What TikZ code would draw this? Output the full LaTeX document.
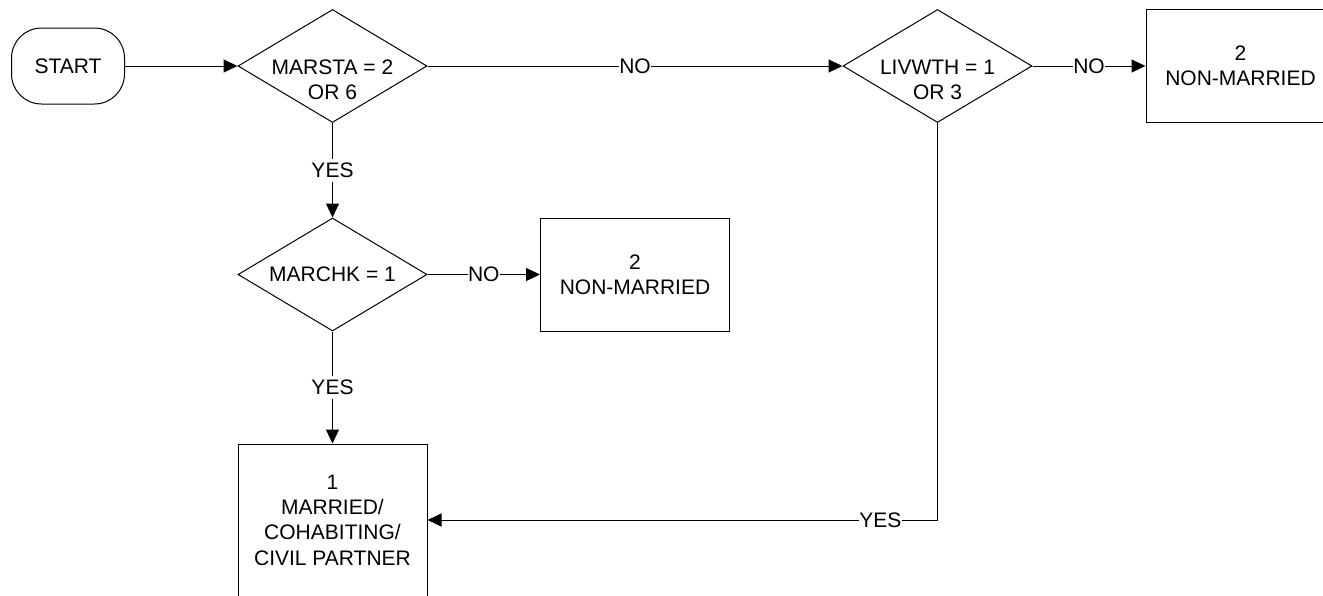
\documentclass[tikz,border=0pt]{standalone}
\usepackage{fontspec}
\setmainfont{Liberation Sans}
\usetikzlibrary{shapes.geometric,arrows.meta}
\begin{document}
\begin{tikzpicture}[x=0.5pt,y=-0.5pt,
  every node/.style={font=\fontsize{10.5pt}{12.65pt}\selectfont},
  base/.style={draw=black,line width=0.5pt},
  termbox/.style={base,rectangle,rounded corners=15pt,minimum width=56.5pt,minimum height=38pt,inner sep=0pt},
  decision/.style={base,diamond,minimum width=94.5pt,minimum height=56.5pt,inner sep=0pt},
  outbox/.style={base,rectangle,minimum width=94.5pt,minimum height=56.5pt,inner sep=0pt,align=center},
  tallbox/.style={outbox,minimum height=76pt},
  dtext/.style={align=center,inner sep=0pt},
  conn/.style={line width=0.5pt,-{Triangle[length=7pt,width=6.5pt]}},
  lab/.style={fill=white,inner xsep=0.2pt,inner ysep=2pt}
]
\useasboundingbox (0,0) rectangle (1323,595);
\clip (0,0) rectangle (1323,595);

\node[termbox] (start) at (68,66) {START};
\node[decision] (d1) at (332.5,66) {};
\node[dtext] (d1t) at (332.5,80) {MARSTA = 2\\OR 6};
\node[decision] (d3) at (937.5,66) {};
\node[dtext] (d3t) at (937.5,80) {LIVWTH = 1\\OR 3};
\node[outbox] (r1) at (1240.5,66) {2\\NON-MARRIED};
\node[decision] (d2) at (332.5,274.5) {};
\node[dtext] (d2t) at (332.5,274.5) {MARCHK = 1};
\node[outbox] (m1) at (635,274.5) {2\\NON-MARRIED};
\node[tallbox] (b1) at (332.5,520) {1\\MARRIED/\\COHABITING/\\CIVIL PARTNER};

\draw[conn] (start.east) -- (d1.west);
\draw[conn] (d1.east) -- node[lab] {NO} (d3.west);
\draw[conn] (d3.east) -- node[lab] {NO} (r1.west);
\draw[conn] (d1.south) -- node[lab] {YES} (d2.north);
\draw[conn] (d2.east) -- node[lab] {NO} (m1.west);
\draw[conn] (d2.south) -- node[lab] {YES} (b1.north);
\draw[conn] (d3.south) |- node[lab,pos=0.556] {YES} (b1.east);
\end{tikzpicture}
\end{document}
